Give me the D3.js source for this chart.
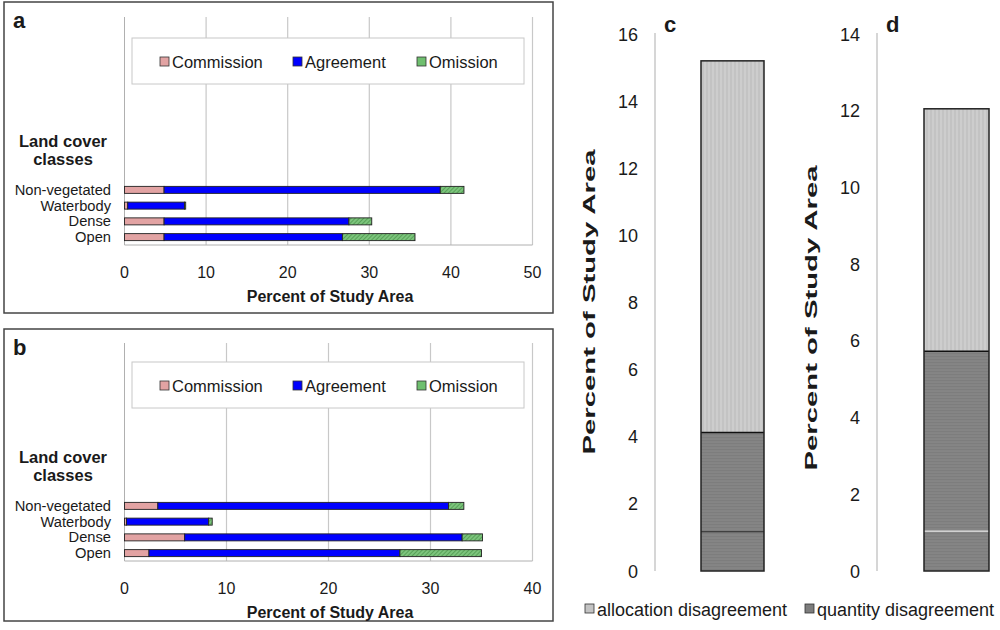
<!DOCTYPE html>
<html lang="en">
<head>
    <meta charset="UTF-8">
    <title>Accuracy assessment</title>
    <script src="https://d3js.org/d3.v7.min.js"></script>
    <style>
        body { margin: 0; background: #fff; }
        text { font-family: "Liberation Sans", Arial, sans-serif; fill: #1a1a1a; }
    </style>
</head>
<body>
<svg id="chart" width="1000" height="630"></svg>

<script>
    // Land cover classes and series (panels a and b)
    const classes = ["Non-vegetated", "Waterbody", "Dense", "Open"];
    const seriesNames = ["Commission", "Agreement", "Omission"];

    // panel a, percent of study area
    const commissionA = [4.85, 0.4, 4.85, 4.85];
    const agreementA = [33.85, 6.95, 22.65, 21.85];
    const omissionA = [2.9, 0.15, 2.8, 8.9];
    const ticksA = [0, 10, 20, 30, 40, 50];

    // panel b
    const commissionB = [3.27, 0.2, 5.9, 2.4];
    const agreementB = [28.5, 8.05, 27.2, 24.6];
    const omissionB = [1.5, 0.35, 2.0, 8.0];
    const ticksB = [0, 10, 20, 30, 40];

    // panels c and d: stacked disagreement (quantity parts, then allocation)
    const disagreeNames = ["allocation disagreement", "quantity disagreement"];
    const quantityC = [1.17, 2.96];
    const allocationC = 11.07;
    const ticksC = [0, 2, 4, 6, 8, 10, 12, 14, 16];
    const quantityD = [1.04, 4.69];
    const allocationD = 6.32;
    const ticksD = [0, 2, 4, 6, 8, 10, 12, 14];

    const svg = d3.select("#chart");
    const defs = svg.append("defs");

    // hatch patterns
    let p = defs.append("pattern").attr("id", "omit").attr("patternUnits", "userSpaceOnUse")
        .attr("width", 3).attr("height", 3).attr("patternTransform", "rotate(45)");
    p.append("rect").attr("width", 3).attr("height", 3).attr("fill", "#7cc47c");
    p.append("line").attr("x1", 0).attr("y1", 0).attr("x2", 0).attr("y2", 3)
        .attr("stroke", "#3f8a3f").attr("stroke-width", 1.2);

    p = defs.append("pattern").attr("id", "alloc").attr("patternUnits", "userSpaceOnUse")
        .attr("width", 4).attr("height", 4);
    p.append("rect").attr("width", 4).attr("height", 4).attr("fill", "#c3c3c3");
    p.append("line").attr("x1", 1).attr("y1", 0).attr("x2", 1).attr("y2", 4)
        .attr("stroke", "#d8d8d8").attr("stroke-width", 1);

    p = defs.append("pattern").attr("id", "quant").attr("patternUnits", "userSpaceOnUse")
        .attr("width", 4).attr("height", 3);
    p.append("rect").attr("width", 4).attr("height", 3).attr("fill", "#7d7d7d");
    p.append("line").attr("x1", 0).attr("y1", 1).attr("x2", 4).attr("y2", 1)
        .attr("stroke", "#8c8c8c").attr("stroke-width", 1);

    const fills = {Commission: "#e2a3a3", Agreement: "#0000ff", Omission: "url(#omit)"};
    const swatch = {Commission: "#e2a3a3", Agreement: "#0000ff", Omission: "#6fbf6f"};

    // Draws one horizontal stacked bar panel
    function barPanel(o) {
        const g = svg.append("g");
        g.append("rect").attr("x", o.frame[0]).attr("y", o.frame[1])
            .attr("width", o.frame[2]).attr("height", o.frame[3])
            .attr("fill", "none").attr("stroke", "#444").attr("stroke-width", 1.5);

        const x = d3.scaleLinear().domain([0, d3.max(o.ticks)]).range([124.5, 532.5]);
        const y = d3.scalePoint().domain(classes).range([o.y0, o.y1]).padding(0.5);

        // grid
        g.selectAll(".grid").data(o.ticks.slice(1)).enter().append("line")
            .attr("x1", d => x(d)).attr("x2", d => x(d))
            .attr("y1", o.top).attr("y2", o.y1)
            .attr("stroke", "#c8c8c8").attr("stroke-width", 1.2);
        g.append("line").attr("x1", x(0)).attr("x2", x(0)).attr("y1", o.top).attr("y2", o.y1)
            .attr("stroke", "#b0b0b0");
        g.append("line").attr("x1", x(0)).attr("x2", x.range()[1]).attr("y1", o.y1).attr("y2", o.y1)
            .attr("stroke", "#b0b0b0");

        // legend box
        g.append("rect").attr("x", 132).attr("y", o.legY).attr("width", 392).attr("height", 46)
            .attr("fill", "#fff").attr("stroke", "#c8c8c8");
        const legX = [160, 293, 417];
        seriesNames.forEach((s, i) => {
            g.append("rect").attr("x", legX[i]).attr("y", o.legY + 19).attr("width", 9).attr("height", 9)
                .attr("fill", swatch[s]).attr("stroke", "#333").attr("stroke-width", 0.8);
            g.append("text").attr("x", legX[i] + 12).attr("y", o.legY + 30)
                .attr("font-size", 16.5).text(s);
        });

        // stacked bars
        const rows = classes.map((c, i) => ({cls: c, Commission: o.com[i], Agreement: o.agr[i], Omission: o.om[i]}));
        const stacked = d3.stack().keys(seriesNames)(rows);
        g.selectAll(".series").data(stacked).enter().append("g")
            .attr("fill", d => fills[d.key])
            .selectAll("rect").data(d => d).enter().append("rect")
            .attr("x", d => x(d[0])).attr("width", d => x(d[1]) - x(d[0]))
            .attr("y", d => y(d.data.cls) - 3.5).attr("height", 7)
            .attr("stroke", "#222").attr("stroke-width", 0.9);

        // category labels
        g.selectAll(".cat").data(classes).enter().append("text")
            .attr("x", 111).attr("y", d => y(d) + 5).attr("text-anchor", "end")
            .attr("font-size", 14.7).text(d => d);
        g.append("text").attr("x", 63).attr("y", o.y0 - 35).attr("text-anchor", "middle")
            .attr("font-size", 16.5).attr("font-weight", "bold").text("Land cover");
        g.append("text").attr("x", 63).attr("y", o.y0 - 17).attr("text-anchor", "middle")
            .attr("font-size", 16.5).attr("font-weight", "bold").text("classes");

        // x axis
        g.selectAll(".tick").data(o.ticks).enter().append("text")
            .attr("x", d => x(d)).attr("y", o.y1 + 33).attr("text-anchor", "middle")
            .attr("font-size", 16).text(d => d);
        g.append("text").attr("x", 330).attr("y", o.y1 + 57).attr("text-anchor", "middle")
            .attr("font-size", 16).attr("font-weight", "bold").text("Percent of Study Area");

        g.append("text").attr("x", 13).attr("y", o.frame[1] + 26).attr("font-size", 22)
            .attr("font-weight", "bold").text(o.letter);
    }

    barPanel({letter: "a", frame: [4, 2, 549, 311], top: 17, y0: 182, y1: 245, legY: 38,
        com: commissionA, agr: agreementA, om: omissionA, ticks: ticksA});
    barPanel({letter: "b", frame: [4, 329, 549, 292], top: 343, y0: 498, y1: 561, legY: 362,
        com: commissionB, agr: agreementB, om: omissionB, ticks: ticksB});

    // Draws one vertical stacked disagreement bar
    function columnPanel(o) {
        const g = svg.append("g");
        const y = d3.scaleLinear().domain([0, d3.max(o.ticks)]).range([571, 34]);
        g.append("line").attr("x1", o.axisX).attr("x2", o.axisX).attr("y1", 33).attr("y2", 571)
            .attr("stroke", "#c8c8c8").attr("stroke-width", 1.5);
        g.selectAll(".tick").data(o.ticks).enter().append("text")
            .attr("x", o.axisX - 17).attr("y", d => y(d) + 6.5).attr("text-anchor", "end")
            .attr("font-size", 18).text(d => d);
        g.append("text").attr("transform", `translate(${o.axisX - 60},${o.titleY}) rotate(-90)`)
            .attr("text-anchor", "middle").attr("font-size", 17).attr("font-weight", "bold")
            .attr("textLength", 305).attr("lengthAdjust", "spacingAndGlyphs")
            .text("Percent of Study Area");

        // segments: quantity parts then allocation
        const segs = o.quant.map(v => ({v: v, fill: "url(#quant)"}))
            .concat([{v: o.alloc, fill: "url(#alloc)"}]);
        let acc = 0;
        segs.forEach(s => { s.y0 = acc; acc += s.v; s.y1 = acc; });
        g.selectAll(".seg").data(segs).enter().append("rect")
            .attr("x", o.barX[0]).attr("width", o.barX[1] - o.barX[0])
            .attr("y", d => y(d.y1)).attr("height", d => y(d.y0) - y(d.y1))
            .attr("fill", d => d.fill);
        // inner divider within quantity part
        g.append("line").attr("x1", o.barX[0]).attr("x2", o.barX[1])
            .attr("y1", y(o.quant[0])).attr("y2", y(o.quant[0]))
            .attr("stroke", o.innerLine).attr("stroke-width", 1.2);
        g.append("line").attr("x1", o.barX[0]).attr("x2", o.barX[1])
            .attr("y1", y(d3.sum(o.quant))).attr("y2", y(d3.sum(o.quant)))
            .attr("stroke", "#111").attr("stroke-width", 1.5);
        g.append("rect").attr("x", o.barX[0]).attr("width", o.barX[1] - o.barX[0])
            .attr("y", y(acc)).attr("height", y(0) - y(acc))
            .attr("fill", "none").attr("stroke", "#222").attr("stroke-width", 1.5);

        g.append("text").attr("x", o.axisX + 9).attr("y", 32).attr("font-size", 22)
            .attr("font-weight", "bold").text(o.letter);
    }

    columnPanel({letter: "c", axisX: 655, barX: [701, 764], ticks: ticksC, titleY: 302,
        quant: quantityC, alloc: allocationC, innerLine: "#222"});
    columnPanel({letter: "d", axisX: 877, barX: [924, 989], ticks: ticksD, titleY: 318,
        quant: quantityD, alloc: allocationD, innerLine: "#e8e8e8"});

    // bottom legend
    const legend = svg.append("g");
    [[585, "#c3c3c3"], [805, "#7d7d7d"]].forEach((l, i) => {
        legend.append("rect").attr("x", l[0]).attr("y", 604).attr("width", 9).attr("height", 9)
            .attr("fill", l[1]).attr("stroke", "#333").attr("stroke-width", 0.8);
        legend.append("text").attr("x", l[0] + 12).attr("y", 616).attr("font-size", 18)
            .text(disagreeNames[i]);
    });
</script>
</body>
</html>
